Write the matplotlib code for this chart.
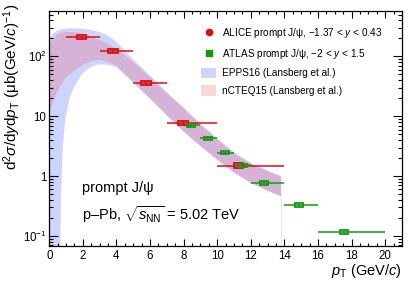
import matplotlib
matplotlib.use('Agg')
import matplotlib.pyplot as plt
import numpy as np
from matplotlib.patches import Rectangle, Patch
from matplotlib.lines import Line2D
from matplotlib.ticker import FixedLocator, FuncFormatter, LogLocator, MultipleLocator, NullFormatter

plt.rcParams['font.family'] = ['Liberation Sans', 'DejaVu Sans']
plt.rcParams['mathtext.fontset'] = 'custom'
plt.rcParams['mathtext.rm'] = 'Liberation Sans'
plt.rcParams['mathtext.it'] = 'Liberation Sans:italic'
plt.rcParams['mathtext.bf'] = 'Liberation Sans:bold'

# ---------------- data ----------------
alice_pt = [1.93, 3.8, 5.75, 7.95, 11.25]
alice_lo = [1, 3, 5, 7, 10]
alice_hi = [3, 5, 7, 10, 14]
alice_val = [210, 123, 36, 7.85, 1.5]
alice_stat = [0.03, 0.03, 0.04, 0.06, 0.12]
alice_syst = [0.07, 0.07, 0.07, 0.08, 0.09]

atlas_pt = [8.45, 9.45, 10.45, 11.5, 12.8, 14.85, 17.55]
atlas_lo = [8, 9, 10, 11, 12, 14, 16]
atlas_hi = [9, 10, 11, 12, 14, 16, 20]
atlas_val = [7.07, 4.27, 2.47, 1.52, 0.77, 0.33, 0.117]
atlas_stat = [0.02, 0.02, 0.02, 0.03, 0.03, 0.04, 0.05]
atlas_syst = [0.06, 0.06, 0.06, 0.06, 0.06, 0.06, 0.06]

epps_pt = [0, 0.2, 0.45, 0.6, 0.65, 0.7, 0.8, 0.95, 1.2, 1.5, 2.0, 2.5, 3.0, 3.5, 4.0,
           5.0, 6.0, 7.0, 8.0, 9.0, 10.0, 11.0, 12.0, 13.0, 13.8]
epps_hi = [200, 235, 268, 278, 280, 283, 288, 292, 295, 295, 290, 275, 255, 222, 175,
           88, 48, 25.2, 14.0, 7.5, 4.3, 2.5, 1.66, 1.24, 1.0]
epps_lo = [0.001, 0.003, 0.01, 0.03, 0.07, 0.5, 3, 9, 20, 32, 53, 68, 74, 72, 66,
           36, 19.5, 10.2, 5.5, 3.15, 1.87, 1.13, 0.77, 0.57, 0.46]

ncteq_pt = [0, 0.2, 0.45, 0.7, 1.0, 1.5, 2.0, 2.5, 3.0, 3.5, 4.0,
            5.0, 6.0, 7.0, 8.0, 9.0, 10.0, 11.0, 12.0, 13.0, 13.8]
ncteq_hi = [165, 190, 232, 248, 255, 255, 240, 215, 185, 160, 135,
            80, 45, 24, 13.5, 7.2, 4.1, 2.4, 1.6, 1.2, 0.98]
ncteq_lo = [12, 16, 25, 33, 45, 58, 72, 83, 88, 80, 70,
            38, 20, 10.5, 5.6, 3.2, 1.9, 1.15, 0.78, 0.57, 0.46]

red = '#d81010'
green = '#139a13'
blue_band = '#cdd5ff'
pink_band = (1.0, 0.0, 0.0, 0.16)

fig = plt.figure(figsize=(4.11, 2.83), dpi=100)
ax = fig.add_axes([49.3/411, 1-246/283, (402-49.3)/411, (246-10.7)/283])

ax.set_xscale('linear')
ax.set_yscale('log')
ax.set_xlim(0, 21)
ax.set_ylim(0.068, 580)

# bands
ax.fill_between(epps_pt, epps_lo, epps_hi, facecolor=blue_band, linewidth=0, zorder=1)
ax.fill_between(ncteq_pt, ncteq_lo, ncteq_hi, facecolor=pink_band, linewidth=0, zorder=2)
ax.plot([ncteq_pt[-1], ncteq_pt[-1]], [0.01, ncteq_lo[-1]], color='#e6e6e6', lw=0.6, zorder=1.5)

def draw_points(pt, lo, hi, val, stat, syst, color, bw):
    pt = np.array(pt); lo = np.array(lo); hi = np.array(hi)
    val = np.array(val); stat = np.array(stat); syst = np.array(syst)
    ax.errorbar(pt, val, xerr=[pt - lo, hi - pt], yerr=val*stat, fmt='none',
                ecolor=color, elinewidth=1.1, capsize=0, zorder=4)
    for x, y, s in zip(pt, val, syst):
        ax.add_patch(Rectangle((x - bw, y*(1 - s)), 2*bw, 2*y*s, facecolor='none',
                               edgecolor=color, linewidth=1.3, zorder=5))

draw_points(alice_pt, alice_lo, alice_hi, alice_val, alice_stat, alice_syst, red, 0.28)
draw_points(atlas_pt, atlas_lo, atlas_hi, atlas_val, atlas_stat, atlas_syst, green, 0.25)

# ticks
ax.xaxis.set_major_locator(MultipleLocator(2))
ax.xaxis.set_minor_locator(MultipleLocator(0.5))
ax.yaxis.set_major_locator(FixedLocator([0.1, 1, 10, 100]))
ax.yaxis.set_minor_locator(LogLocator(base=10, subs=np.arange(2, 10)))
ax.yaxis.set_minor_formatter(NullFormatter())
ylabels = {0.1: r'10$^{-1}$', 1: '1', 10: '10', 100: r'10$^{2}$'}
ax.yaxis.set_major_formatter(FuncFormatter(lambda v, p: ylabels.get(round(v, 3), '')))
ax.tick_params(axis='both', which='both', direction='in', top=True, right=True,
               labelsize=8.3, width=0.8, colors='black')
ax.tick_params(axis='x', which='major', length=5, pad=3)
ax.tick_params(axis='x', which='minor', length=2.5)
ax.tick_params(axis='y', which='major', length=6.5, pad=2)
ax.tick_params(axis='y', which='minor', length=3.2)
for sp in ax.spines.values():
    sp.set_linewidth(0.9)

# axis titles
fig.text(12/411, 1 - 4/283, r'd$^{2}\sigma$/d$y$d$p_{\mathrm{T}}$ (μb(GeV/$c$)$^{-1}$)',
         rotation=90, ha='center', va='top', fontsize=11)
fig.text(402/411, 1 - 275/283, r'$p_{\mathrm{T}}$ (GeV/$c$)', ha='right', va='baseline', fontsize=10.5)

# annotations
ax.text(0.093, 0.246, 'prompt J/ψ', transform=ax.transAxes, fontsize=10.5, ha='left', va='center')
ax.text(0.093, 0.132, r'p–Pb, $\sqrt{s_{\mathrm{NN}}}$ = 5.02 TeV', transform=ax.transAxes,
        fontsize=10.5, ha='left', va='center')

# legend
handles = [
    Line2D([], [], linestyle='none', marker='o', color=red, markersize=4.5),
    Line2D([], [], linestyle='none', marker='s', color=green, markersize=4.5),
    Patch(facecolor=blue_band, edgecolor='none'),
    Patch(facecolor=pink_band, edgecolor='none'),
]
labels = [r'ALICE prompt J/ψ, −1.37 < $y$ < 0.43',
          r'ATLAS prompt J/ψ, −2 < $y$ < 1.5',
          'EPPS16 (Lansberg et al.)',
          'nCTEQ15 (Lansberg et al.)']
fs = 7.2
px = fs * 100 / 72
leg = ax.legend(handles, labels, loc='upper left', bbox_to_anchor=(201/411, 1 - 26.5/283),
                bbox_transform=fig.transFigure, frameon=False, fontsize=fs,
                handlelength=15/px, handleheight=13/px, handletextpad=6/px,
                labelspacing=6.5/px, borderpad=0, borderaxespad=0)

fig.savefig('out.png', dpi=100)
